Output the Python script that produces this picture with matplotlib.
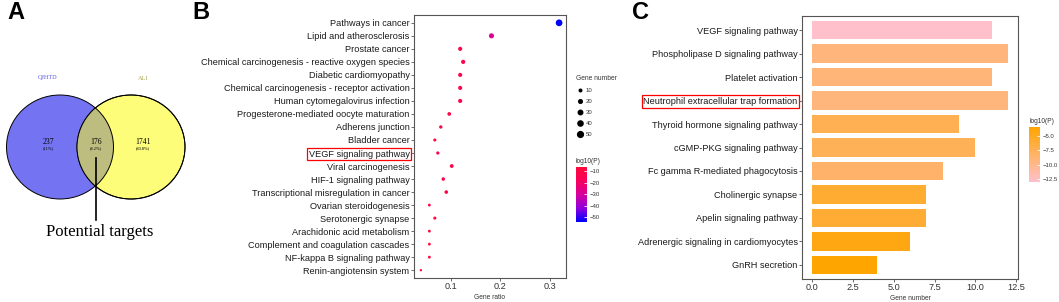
import matplotlib
matplotlib.use("Agg")
import numpy as np
import matplotlib.pyplot as plt
from matplotlib.patches import Ellipse
from matplotlib.colors import LinearSegmentedColormap, Normalize
from matplotlib.lines import Line2D
import matplotlib.cm as cm

plt.rcParams['font.family'] = ['Liberation Sans', 'DejaVu Sans']

# ---- datos panel A (Venn) ----
venn_names = ["QJHTD", "ALI"]
venn_counts = [237, 176, 1741]
venn_pct = ["(11%)", "(8.2%)", "(80.8%)"]
venn_note = "Potential targets"

# ---- datos panel B (KEGG) ----
kegg_terms = [
    "Pathways in cancer", "Lipid and atherosclerosis", "Prostate cancer",
    "Chemical carcinogenesis - reactive oxygen species", "Diabetic cardiomyopathy",
    "Chemical carcinogenesis - receptor activation", "Human cytomegalovirus infection",
    "Progesterone-mediated oocyte maturation", "Adherens junction", "Bladder cancer",
    "VEGF signaling pathway", "Viral carcinogenesis", "HIF-1 signaling pathway",
    "Transcriptional misregulation in cancer", "Ovarian steroidogenesis",
    "Serotonergic synapse", "Arachidonic acid metabolism",
    "Complement and coagulation cascades", "NF-kappa B signaling pathway",
    "Renin-angiotensin system",
]
kegg_ratio = [0.318, 0.182, 0.119, 0.125, 0.119, 0.119, 0.119, 0.097, 0.080, 0.068,
              0.074, 0.102, 0.085, 0.091, 0.057, 0.068, 0.057, 0.057, 0.057, 0.040]
kegg_count = [56, 32, 21, 22, 21, 21, 21, 17, 14, 12, 13, 18, 15, 16, 10, 12, 10, 10, 10, 7]
kegg_logp = [-54.3, -28, -13, -12, -13, -12, -12, -12, -11, -10,
             -13, -13, -12, -11, -9, -8, -8, -7, -8, -6.5]
kegg_size_legend = [10, 20, 30, 40, 50]
kegg_cbar_ticks = [-10, -20, -30, -40, -50]

# ---- datos panel C (barras) ----
go_terms = [
    "VEGF signaling pathway", "Phospholipase D signaling pathway", "Platelet activation",
    "Neutrophil extracellular trap formation", "Thyroid hormone signaling pathway",
    "cGMP-PKG signaling pathway", "Fc gamma R-mediated phagocytosis",
    "Cholinergic synapse", "Apelin signaling pathway",
    "Adrenergic signaling in cardiomyocytes", "GnRH secretion",
]
go_count = [11, 12, 11, 12, 9, 10, 8, 7, 7, 6, 4]
go_logp = [-13.0, -9.2, -9.0, -9.3, -7.3, -7.5, -8.4, -5.8, -5.9, -4.3, -3.4]
go_ticks = [0.0, 2.5, 5.0, 7.5, 10.0, 12.5]
go_cbar_ticks = [-5.0, -7.5, -10.0, -12.5]

W, H = 1059, 302
fig = plt.figure(figsize=(W / 100, H / 100), dpi=100)

def fx(px):
    return px / W

def fy(py):
    return 1 - py / H

# ---------------- A ----------------
axA = fig.add_axes([0, 0, 200 / W, 1])
axA.set_xlim(0, 200)
axA.set_ylim(302, 0)
axA.axis("off")
azul = Ellipse((60, 147), 107, 104, facecolor="#7474f2", edgecolor="black", lw=0.7)
amar = Ellipse((131, 147), 108, 104, facecolor="#fdfd7a", edgecolor="black", lw=0.7)
axA.add_patch(azul)
axA.add_patch(amar)
inter = Ellipse((60, 147), 107, 104, facecolor="#bdbd80", edgecolor="black", lw=0.7)
axA.add_patch(inter)
inter.set_clip_path(amar)
axA.add_patch(Ellipse((131, 147), 108, 104, facecolor="none", edgecolor="black", lw=0.7))
serif = ['Liberation Serif', 'DejaVu Serif']
axA.text(48, 78, venn_names[0], color="#5a5ae6", fontsize=4.5, ha="center", va="center", family=serif)
axA.text(143, 78, venn_names[1], color="#a8a850", fontsize=4.5, ha="center", va="center", family=serif)
for xx, n, p in zip([48, 96, 143], venn_counts, venn_pct):
    axA.text(xx, 142, str(n), fontsize=5.5, ha="center", va="center", family=serif)
    axA.text(xx, 148.5, p, fontsize=3.2, ha="center", va="center", family=serif)
axA.plot([96, 96], [158, 220], color="black", lw=1.2)
axA.text(100, 232, venn_note, fontsize=12, ha="center", va="center", family=serif)

# ---------------- B ----------------
cmapB = LinearSegmentedColormap.from_list(
    "bp", ["#0000ff", "#8f00dc", "#d6009c", "#f8005c", "#ff0a3c"])
normB = Normalize(vmin=min(kegg_logp), vmax=max(kegg_logp))
axB = fig.add_axes([fx(414), fy(278), fx(566) - fx(414), fy(15) - fy(278)])
yB = np.arange(len(kegg_terms))
k = 0.9 * 0.72
axB.scatter(kegg_ratio, yB, s=[(k * np.sqrt(c)) ** 2 for c in kegg_count],
            c=kegg_logp, cmap=cmapB, norm=normB, linewidths=0, zorder=3)
axB.set_ylim(len(kegg_terms) - 1 + 0.6, -0.6)
rng = max(kegg_ratio) - min(kegg_ratio)
axB.set_xlim(min(kegg_ratio) - 0.05 * rng, max(kegg_ratio) + 0.05 * rng)
axB.set_yticks(yB)
axB.set_yticklabels(kegg_terms, fontsize=6.6, color="#1a1a1a")
axB.set_xticks([0.1, 0.2, 0.3])
axB.set_xticklabels(["0.1", "0.2", "0.3"], fontsize=6.6, color="#333333")
axB.set_xlabel("Gene ratio", fontsize=4.8, color="#333333", labelpad=2)
axB.tick_params(length=2, width=0.6, color="#555555", pad=1.2)
for s in axB.spines.values():
    s.set_color("#555555")
    s.set_linewidth(0.8)
lblB = axB.get_yticklabels()[kegg_terms.index("VEGF signaling pathway")]
lblB.set_bbox(dict(facecolor="none", edgecolor="red", lw=0.9, pad=1.2))

handles = [Line2D([], [], marker="o", ls="none", color="black",
                  markersize=0.82 * 0.72 * np.sqrt(v)) for v in kegg_size_legend]
leg = fig.legend(handles, [str(v) for v in kegg_size_legend], title="Gene number",
                 loc="upper left", bbox_to_anchor=(fx(571), fy(70)), frameon=False,
                 fontsize=4.3, title_fontsize=4.8, labelspacing=0.95,
                 handletextpad=0.4, handlelength=1.2, alignment="left")
for t in leg.get_texts():
    t.set_color("#333333")
leg.get_title().set_color("#333333")

caxB = fig.add_axes([fx(576), fy(222), 11 / W, 55 / H])
cbB = fig.colorbar(cm.ScalarMappable(norm=normB, cmap=cmapB), cax=caxB)
cbB.outline.set_visible(False)
cbB.set_ticks(kegg_cbar_ticks)
caxB.tick_params(length=2, width=0.6, color="white", direction="in", labelsize=4.3,
                 labelcolor="#333333", pad=2)
caxB.set_title("log10(P)", fontsize=4.8, color="#333333", loc="left", pad=3)

# ---------------- C ----------------
cmapC = LinearSegmentedColormap.from_list("po", ["#ffc0cb", "#ffa500"])
normC = Normalize(vmin=min(go_logp), vmax=max(go_logp))
axC = fig.add_axes([fx(802), fy(279), fx(1018) - fx(802), fy(16) - fy(279)])
yC = np.arange(len(go_terms))
axC.barh(yC, go_count, height=0.78, color=cmapC(normC(np.array(go_logp))), zorder=3)
axC.set_ylim(len(go_terms) - 1 + 0.6, -0.6)
axC.set_xlim(-0.05 * max(go_count), 1.05 * max(go_count))
axC.set_yticks(yC)
axC.set_yticklabels(go_terms, fontsize=6.6, color="#1a1a1a")
axC.set_xticks(go_ticks)
axC.set_xticklabels([f"{t:.1f}" for t in go_ticks], fontsize=6.6, color="#333333")
axC.set_xlabel("Gene number", fontsize=4.8, color="#333333", labelpad=2)
axC.tick_params(length=2, width=0.6, color="#555555", pad=1.2)
for s in axC.spines.values():
    s.set_color("#555555")
    s.set_linewidth(0.8)
lblC = axC.get_yticklabels()[go_terms.index("Neutrophil extracellular trap formation")]
lblC.set_bbox(dict(facecolor="none", edgecolor="red", lw=0.9, pad=1.2))

caxC = fig.add_axes([fx(1029), fy(182), 11 / W, 55 / H])
cbC = fig.colorbar(cm.ScalarMappable(norm=normC, cmap=cmapC), cax=caxC)
cbC.outline.set_visible(False)
cbC.set_ticks(go_cbar_ticks)
caxC.tick_params(length=2, width=0.6, color="white", direction="in", labelsize=4.3,
                 labelcolor="#333333", pad=2)
caxC.set_title("log10(P)", fontsize=4.8, color="#333333", loc="left", pad=3)

# letras de panel
for letra, px in [("A", 7), ("B", 192), ("C", 632)]:
    fig.text(fx(px), fy(1), letra, fontsize=17, fontweight="bold", ha="left", va="top")

fig.savefig("out.png", dpi=100)
